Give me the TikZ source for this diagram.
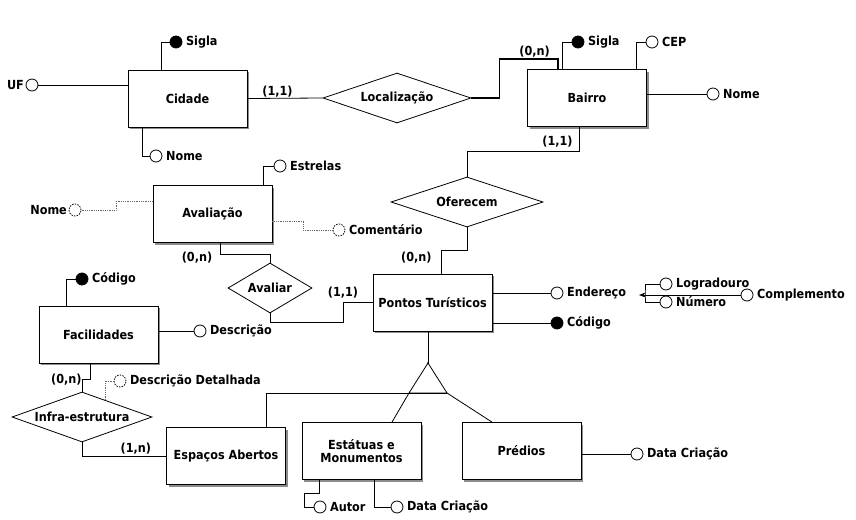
\documentclass[tikz,border=0pt]{standalone}
\usepackage{fontspec}
\setmainfont{DejaVu Sans Condensed}
\usetikzlibrary{shapes.geometric,shadows,calc,arrows.meta}

\tikzset{
  entity/.style={draw, fill=white, minimum width=119pt, minimum height=57pt, align=center,
    drop shadow={shadow xshift=2pt, shadow yshift=-2pt, fill=black!45, opacity=1}},
  relation/.style={diamond, draw, fill=white, inner sep=0pt},
  attr/.style={circle, draw, fill=white, minimum size=12pt, inner sep=0pt, label distance=1pt},
  keyattr/.style={attr, fill=black},
  optattr/.style={attr, dash pattern=on 1.5pt off 1.2pt},
  optline/.style={densely dotted, draw=black!60},
  card/.style={inner sep=1pt},
}

\begin{document}
\begin{tikzpicture}[
    x=1pt, y=-1pt,
    line width=0.8pt,
    font=\fontsize{12.5}{13}\selectfont\bfseries,
    >=Stealth
  ]
  \fill[white] (0,0) rectangle (856,519);
  \useasboundingbox (0,0) rectangle (856,519);

  % entidades
  \node[entity] (cidade) at (187.5,98.5) {Cidade};
  \node[entity] (bairro) at (587,98) {Bairro};
  \node[entity] (avaliacao) at (212.5,214) {Avaliação};
  \node[entity] (pontos) at (432.5,302.5) {Pontos Turísticos};
  \node[entity] (fac) at (98.5,334.5) {Facilidades};
  \node[entity] (espacos) at (226,456) {Espaços Abertos};
  \node[entity] (estatuas) at (361.5,451) {Estátuas e\\Monumentos};
  \node[entity] (predios) at (521.5,451) {Prédios};

  % relacionamentos
  \node[relation, minimum width=148pt, minimum height=50pt, aspect=2.96] (loc) at (397,98) {Localização};
  \node[relation, minimum width=152pt, minimum height=50pt, aspect=3] (ofe) at (467,202) {Oferecem};
  \node[relation, minimum width=84pt, minimum height=50pt, aspect=1.7] (avaliar) at (270,288) {Avaliar};
  \node[relation, minimum width=140pt, minimum height=50pt, aspect=2.8] (infra) at (82,417) {Infra-estrutura};

  % especializacao
  \coordinate (spec) at (428,363);
  \coordinate (specL) at (409,393);
  \coordinate (specR) at (447,393);

  % atributos
  \node[keyattr, label=right:Sigla] (cidSigla) at (176,42) {};
  \node[attr, label={[label distance=-2pt]left:UF}] (cidUF) at (32,85) {};
  \node[attr, label=right:Nome] (cidNome) at (156,156) {};
  \node[keyattr, label=right:Sigla] (baiSigla) at (578,42) {};
  \node[attr, label=right:CEP] (baiCEP) at (652,42) {};
  \node[attr, label=right:Nome] (baiNome) at (713,94) {};
  \node[attr, label=right:Estrelas] (avEstrelas) at (280,166) {};
  \node[optattr, label={[label distance=-2pt]left:Nome}] (avNome) at (75,210) {};
  \node[optattr, label=right:Comentário] (avComent) at (339,230) {};
  \node[keyattr, label=right:Código] (facCodigo) at (82,279) {};
  \node[attr, label=right:Descrição] (facDesc) at (200,331) {};
  \node[optattr, label=right:Descrição Detalhada] (infDesc) at (120,381) {};
  \node[attr, label=right:Endereço] (ptEnd) at (557,293) {};
  \node[keyattr, label=right:Código] (ptCod) at (557,323) {};
  \node[attr, label=right:Logradouro] (ptLog) at (666,284) {};
  \node[attr, label=right:Número] (ptNum) at (666,302) {};
  \node[attr, label=right:Complemento] (ptComp) at (747,295) {};
  \node[attr, label=right:Autor] (estAutor) at (320,507) {};
  \node[attr, label=right:Data Criação] (estData) at (397,507) {};
  \node[attr, label=right:Data Criação] (predData) at (637,454) {};
  \coordinate (endJ) at (645,295);
  \coordinate (avJ) at ($(avaliacao.south)+(7.5,11)$);

  % ligacoes
  \draw (cidade.east) -- node[card, above, pos=0.4] {(1,1)} (loc.west);
  \draw[line width=1.6pt] (loc.east) -- ++(28,0) -- ++(0,-39)
    -| node[card, above, pos=0.3] {(0,n)} ([xshift=-29pt]bairro.north);
  \draw ([xshift=-8pt]bairro.south) -- node[card, left=5pt, pos=0.6] {(1,1)} ++(0,24) -| (ofe.north);
  \draw (ofe.south) -- ++(0,23) -| node[card, left=8pt, pos=0.65] {(0,n)} ([xshift=8.5pt]pontos.north);
  \draw (avaliacao.south -| avJ) -- (avJ) -| (avaliar.north);
  \node[card] at ($(avaliacao.south)+(-15.5,15)$) {(0,n)};
  \draw (avaliar.south) -- ++(0,9) -- ++(73,0) |- node[card, above=3pt, pos=0.5] {(1,1)} (pontos.west);
  \draw ([xshift=-8.5pt]fac.south) -- ++(0,16) node[card, left=7pt] {(0,n)} -| (infra.north);
  \draw (infra.south) |- node[card, above, pos=0.82] {(1,n)} (espacos.west);

  \draw (pontos.south -| spec) -- (spec);
  \draw (specL) -- (spec) -- (specR) -- cycle;
  \fill (spec) circle (1pt);
  \draw ([xshift=40pt]espacos.north) |- (specR);
  \draw (specL) -- ([xshift=30.5pt]estatuas.north);
  \draw (specR) -- ([xshift=-29.5pt]predios.north);

  \draw ([xshift=-26.5pt]cidade.north) |- (cidSigla);
  \draw (cidUF) -- (cidUF -| cidade.west);
  \draw ([xshift=-45.5pt]cidade.south) |- (cidNome);
  \draw ([xshift=-25pt]bairro.north) |- (baiSigla);
  \draw ([xshift=49pt]bairro.north) |- (baiCEP);
  \draw (baiNome) -- (baiNome -| bairro.east);
  \draw ([xshift=50.5pt]avaliacao.north) |- (avEstrelas);
  \draw[optline] ([yshift=13pt]avaliacao.west) -- ++(-36,0) |- (avNome);
  \draw[optline] ([yshift=-7pt]avaliacao.east) -- ++(31,0) |- (avComent);
  \draw ([xshift=-32.5pt]fac.north) |- (facCodigo);
  \draw (facDesc) -- (facDesc -| fac.east);
  \draw[optline] ($(infra.north)!0.33!(infra.east)$) |- (infDesc);
  \draw (ptEnd) -- (ptEnd -| pontos.east);
  \draw (ptCod) -- (ptCod -| pontos.east);
  \draw[->] (endJ) -- ++(-6,0);
  \draw (ptLog) -| (endJ) |- (ptNum);
  \draw (endJ) -- (ptComp);
  \draw ([xshift=-42.5pt]estatuas.south) -- ++(0,13) -- ++(-15,0) |- (estAutor);
  \draw ([xshift=12.5pt]estatuas.south) |- (estData);
  \draw (predData) -- (predData -| predios.east);
\end{tikzpicture}
\end{document}
